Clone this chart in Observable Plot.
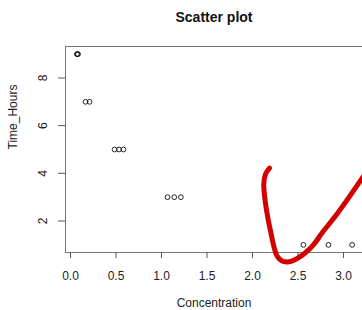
<!DOCTYPE html>
<html>
<head>
<meta charset="utf-8">
<script src="https://cdn.jsdelivr.net/npm/d3@7"></script>
<script src="https://cdn.jsdelivr.net/npm/@observablehq/plot@0.6"></script>
<style>
  html, body { margin: 0; padding: 0; background: #fff; }
  svg { display: block; }
</style>
</head>
<body>
<div id="chart"></div>
<script>
const concentration = [0.070, 0.077, 0.082, 0.165, 0.210, 0.484, 0.533, 0.582, 1.066, 1.140, 1.213, 2.560, 2.835, 3.095];
const timeHours     = [9, 9, 9, 7, 7, 5, 5, 5, 3, 3, 3, 1, 1, 1];
const xTicks = [0, 0.5, 1, 1.5, 2, 2.5, 3];
const yTicks = [2, 4, 6, 8];
// hand-drawn red check mark, in data units
const markX = [2.187, 2.143, 2.124, 2.135, 2.162, 2.198, 2.234, 2.271, 2.326, 2.399, 2.491, 2.582, 2.674, 2.766, 2.912, 3.058, 3.209, 3.30];
const markY = [4.22, 3.97, 3.55, 2.98, 2.28, 1.58, 0.95, 0.53, 0.32, 0.29, 0.43, 0.67, 1.02, 1.51, 2.21, 2.98, 3.82, 4.32];

const points = concentration.map((c, i) => ({x: c, y: timeHours[i]}));
const mark = markX.map((x, i) => ({x, y: markY[i]}));
const xDomain = [-0.055, 3.209];
const yDomain = [0.68, 9.32];

const chart = Plot.plot({
  width: 362,
  height: 310,
  marginLeft: 65,
  marginRight: 0,
  marginTop: 46,
  marginBottom: 58,
  style: {fontFamily: "'Liberation Sans', Arial, sans-serif", fontSize: "12px", color: "#222", background: "#fff"},
  x: {domain: xDomain},
  y: {domain: yDomain},
  marks: [
    Plot.ruleX([xDomain[0]], {stroke: "#777", strokeWidth: 1}),
    Plot.ruleY([yDomain[0], yDomain[1]], {stroke: "#777", strokeWidth: 1}),
    Plot.axisX({ticks: xTicks, tickSize: 6, tickPadding: 13, tickFormat: d3.format(".1f"), stroke: "#555", fill: "#222", label: null}),
    Plot.axisY({ticks: yTicks, tickSize: 7, tickFormat: () => "", stroke: "#555", label: null}),
    Plot.text(yTicks, {y: d => d, text: d => String(d), frameAnchor: "left", dx: -22, rotate: -90, textAnchor: "middle", lineAnchor: "middle", fill: "#222", fontSize: 12}),
    Plot.dot(points, {x: "x", y: "y", r: 2.4, stroke: "#111", strokeWidth: 0.9, fill: "none"}),
    Plot.line(mark, {x: "x", y: "y", curve: "catmull-rom", stroke: "#d40000", strokeWidth: 5, strokeLinecap: "round", strokeLinejoin: "round"}),
    Plot.text(["Scatter plot"], {frameAnchor: "top", text: d => d, dy: -29, fontWeight: "bold", fontSize: 14, fill: "#111", lineAnchor: "middle"}),
    Plot.text(["Concentration"], {frameAnchor: "bottom", text: d => d, dy: 51, fontSize: 12, fill: "#222", lineAnchor: "middle"}),
    Plot.text(["Time_Hours"], {frameAnchor: "left", text: d => d, dx: -52, rotate: -90, fontSize: 12, fill: "#222", lineAnchor: "middle"})
  ]
});
document.getElementById("chart").appendChild(chart);
</script>
</body>
</html>
